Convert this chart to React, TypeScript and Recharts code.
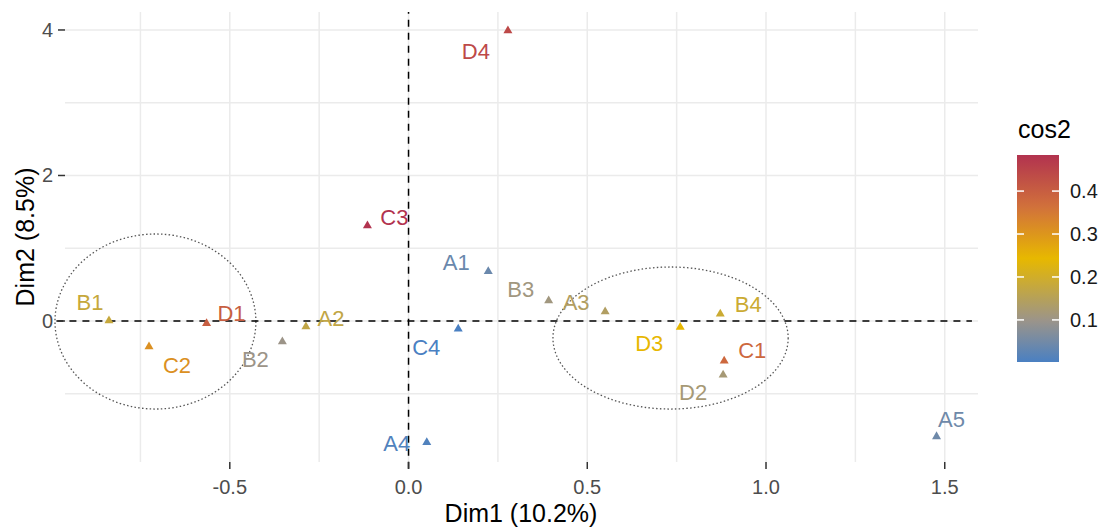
import React from 'react';
import {
  ScatterChart,
  Scatter,
  XAxis,
  YAxis,
  CartesianGrid,
  ReferenceLine,
  ReferenceArea,
} from 'recharts';

const categories = ['A1', 'A2', 'A3', 'A4', 'A5', 'B1', 'B2', 'B3', 'B4', 'C1', 'C2', 'C3', 'C4', 'D1', 'D2', 'D3', 'D4'];
const dim1 = [0.223, -0.287, 0.55, 0.051, 1.477, -0.838, -0.353, 0.392, 0.872, 0.883, -0.726, -0.115, 0.139, -0.565, 0.88, 0.76, 0.278];
const dim2 = [0.68, -0.078, 0.128, -1.67, -1.588, 0.004, -0.284, 0.28, 0.096, -0.55, -0.354, 1.31, -0.11, -0.032, -0.742, -0.086, 3.99];
const cos2 = [0.04, 0.17, 0.14, 0.01, 0.045, 0.18, 0.1, 0.11, 0.19, 0.38, 0.31, 0.484, 0.002, 0.4, 0.12, 0.245, 0.44];

const xTicks = [-0.75, -0.5, -0.25, 0, 0.25, 0.5, 0.75, 1, 1.25, 1.5];
const xMajor = [-0.5, 0, 0.5, 1, 1.5];
const yTicks = [-1, 0, 1, 2, 3, 4];
const yMajor = [0, 2, 4];
const legendTicks = [0.1, 0.2, 0.3, 0.4];

// label nudges (px), like ggrepel placed them
const labelOffsets: Record<string, [number, number]> = {
  A1: [-32, -10], A2: [25, -9], A3: [-29, -10], A4: [-30, 0], A5: [15, -18],
  B1: [-19, -19], B2: [-27, 17], B3: [-28, -12], B4: [28, -10],
  C1: [28, -11], C2: [28, 18], C3: [27, -9], C4: [-32, 18],
  D1: [25, -10], D2: [-30, 17], D3: [-31, 16], D4: [-32, 20],
};

const FONT = '"Liberation Sans", Arial, sans-serif';
const W = 1107;
const H = 531;

const cMin = Math.min(...cos2);
const cMax = Math.max(...cos2);
const stops: [number, string][] = [
  [0, '#4A80C2'],
  [0.2, '#9B948A'],
  [0.5, '#E7B800'],
  [0.74, '#D2733A'],
  [1, '#B2334F'],
];

const hex = (h: string) => [1, 3, 5].map((i) => parseInt(h.slice(i, i + 2), 16));
const colorOf = (v: number) => {
  const t = Math.max(0, Math.min(1, (v - cMin) / (cMax - cMin)));
  for (let i = 1; i < stops.length; i++) {
    if (t <= stops[i][0]) {
      const [t0, c0] = stops[i - 1];
      const [t1, c1] = stops[i];
      const f = (t - t0) / (t1 - t0);
      const a = hex(c0);
      const b = hex(c1);
      return `rgb(${a.map((x, k) => Math.round(x + (b[k] - x) * f)).join(',')})`;
    }
  }
  return stops[stops.length - 1][1];
};

const points = categories.map((name, i) => ({ name, x: dim1[i], y: dim2[i], cos2: cos2[i] }));

const Triangle = (props: any) => {
  const { cx, cy, payload } = props;
  const col = colorOf(payload.cos2);
  const s = 9;
  const h = (s * Math.sqrt(3)) / 2;
  const [dx, dy] = labelOffsets[payload.name] || [0, 0];
  return (
    <g>
      <path
        d={`M${cx},${cy - (2 * h) / 3} L${cx + s / 2},${cy + h / 3} L${cx - s / 2},${cy + h / 3} Z`}
        fill={col}
      />
      <text
        x={cx + dx}
        y={cy + dy + 8}
        textAnchor='middle'
        fontSize={22}
        fontFamily={FONT}
        fill={col}
      >
        {payload.name}
      </text>
    </g>
  );
};

const XTick = (props: any) => {
  const { x, y, payload } = props;
  if (!xMajor.includes(payload.value)) return <g />;
  return (
    <g>
      <line x1={x} x2={x} y1={y} y2={y + 7} stroke='#333' strokeWidth={1.5} />
      <text x={x} y={y + 32} textAnchor='middle' fontSize={20} fontFamily={FONT} fill='#4D4D4D'>
        {payload.value.toFixed(1)}
      </text>
    </g>
  );
};

const YTick = (props: any) => {
  const { x, y, payload } = props;
  if (!yMajor.includes(payload.value)) return <g />;
  return (
    <g>
      <line x1={x - 7} x2={x} y1={y} y2={y} stroke='#333' strokeWidth={1.5} />
      <text x={x - 12} y={y + 7} textAnchor='end' fontSize={20} fontFamily={FONT} fill='#4D4D4D'>
        {payload.value}
      </text>
    </g>
  );
};

const Ellipse = (props: any) => {
  const { x, y, width, height } = props;
  return (
    <ellipse
      cx={x + width / 2}
      cy={y + height / 2}
      rx={Math.abs(width) / 2}
      ry={Math.abs(height) / 2}
      fill='none'
      stroke='#555'
      strokeWidth={1.3}
      strokeDasharray='1.5 2.3'
    />
  );
};

const barTop = 155;
const barH = 207;
const barY = (v: number) => barTop + barH - ((v - cMin) / (cMax - cMin)) * barH;
const gradSteps = Array.from({ length: 21 }, (_, i) => i / 20);

const Legend = () => (
  <svg width={W} height={H} style={{ position: 'absolute', left: 0, top: 0, pointerEvents: 'none' }}>
    <defs>
      <linearGradient id='cos2Grad' x1='0' y1='1' x2='0' y2='0'>
        {gradSteps.map((t) => (
          <stop key={t} offset={`${t * 100}%`} stopColor={colorOf(cMin + t * (cMax - cMin))} />
        ))}
      </linearGradient>
    </defs>
    <text x={521} y={522} textAnchor='middle' fontSize={25} fontFamily={FONT} fill='#000'>
      Dim1 (10.2%)
    </text>
    <text
      transform='translate(34,237) rotate(-90)'
      textAnchor='middle'
      fontSize={25}
      fontFamily={FONT}
      fill='#000'
    >
      Dim2 (8.5%)
    </text>
    <text x={1018} y={138} fontSize={25} fontFamily={FONT} fill='#000'>
      cos2
    </text>
    <rect x={1017} y={barTop} width={42} height={barH} fill='url(#cos2Grad)' />
    {legendTicks.map((v) => (
      <g key={v}>
        <line x1={1017} x2={1024} y1={barY(v)} y2={barY(v)} stroke='#fff' strokeWidth={1.5} />
        <line x1={1052} x2={1059} y1={barY(v)} y2={barY(v)} stroke='#fff' strokeWidth={1.5} />
        <text x={1070} y={barY(v) + 7} fontSize={20} fontFamily={FONT} fill='#1A1A1A'>
          {v.toFixed(1)}
        </text>
      </g>
    ))}
  </svg>
);

export default function App() {
  return (
    <div style={{ position: 'absolute', left: 0, top: 0, width: W, height: H, background: '#fff' }}>
      <ScatterChart width={W} height={H} margin={{ top: 12, right: 129, bottom: 0, left: 0 }}>
        <CartesianGrid stroke='#EBEBEB' strokeWidth={1.5} syncWithTicks />
        <XAxis
          type='number'
          dataKey='x'
          domain={[-0.961, 1.593]}
          ticks={xTicks}
          height={69}
          axisLine={false}
          tickLine={false}
          tickSize={0}
          tickMargin={0}
          tick={XTick}
          interval={0}
          allowDataOverflow
        />
        <YAxis
          type='number'
          dataKey='y'
          domain={[-1.938, 4.247]}
          ticks={yTicks}
          width={65}
          axisLine={false}
          tickLine={false}
          tickSize={0}
          tickMargin={0}
          tick={YTick}
          interval={0}
          allowDataOverflow
        />
        <ReferenceArea x1={-0.989} x2={-0.427} y1={-1.21} y2={1.196} ifOverflow='visible' shape={Ellipse} />
        <ReferenceArea x1={0.404} x2={1.062} y1={-1.21} y2={0.742} ifOverflow='visible' shape={Ellipse} />
        <ReferenceLine
          segment={[{ x: -0.985, y: 0 }, { x: 1.576, y: 0 }]}
          ifOverflow='visible'
          stroke='#000'
          strokeWidth={1.5}
          strokeDasharray='7 6'
        />
        <ReferenceLine
          segment={[{ x: 0, y: -2.03 }, { x: 0, y: 4.247 }]}
          ifOverflow='visible'
          stroke='#000'
          strokeWidth={1.5}
          strokeDasharray='7 6'
        />
        <Scatter data={points} shape={Triangle} isAnimationActive={false} />
      </ScatterChart>
      <Legend />
    </div>
  );
}
